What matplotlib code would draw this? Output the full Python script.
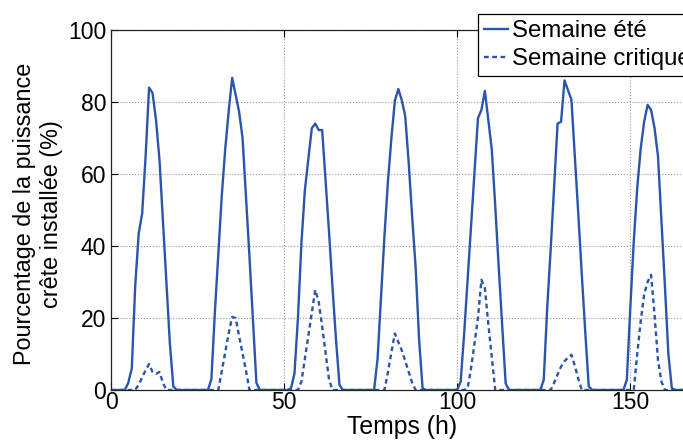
import numpy as np
import matplotlib
matplotlib.use("Agg")
import matplotlib.pyplot as plt

# hourly values over one week (h 0..167), one row per day
semaine_ete = [
    0, 0, 0, 0, 0, 2, 6, 29, 43.5, 49, 65, 84, 82.5, 75, 64, 47, 30, 13, 1, 0, 0, 0, 0, 0,
    0, 0, 0, 0, 0, 3, 21.5, 37.7, 54, 67, 77.5, 86.7, 82, 77.3, 70, 53.7, 37, 19.4, 2, 0, 0, 0, 0, 0,
    0, 0, 0, 0, 0.5, 4.6, 20, 40.7, 55.5, 64, 72.7, 74, 72.2, 72.2, 58, 43.6, 28.3, 13.9, 1.4, 0, 0, 0, 0, 0,
    0, 0, 0, 0, 0, 8.7, 26, 43, 58, 70, 80.4, 83.6, 80.5, 76, 63, 48, 34, 14, 0.5, 0, 0, 0, 0, 0,
    0, 0, 0, 0, 0, 2.3, 15.5, 30.5, 45.5, 60.5, 75.5, 77.8, 83.1, 75, 66.7, 51, 34, 18, 1.8, 0, 0, 0, 0, 0,
    0, 0, 0, 0, 0, 2.8, 22.8, 39, 56.7, 74, 74.5, 86, 83.3, 80.6, 64.8, 48.6, 32, 16, 1, 0, 0, 0, 0, 0,
    0, 0, 0, 0, 0, 2.8, 22.7, 41.2, 56, 67, 74.5, 79.2, 77.8, 72.8, 65, 47, 29, 10, 0.5, 0, 0, 0, 0, 0,
]
semaine_critique = [
    0, 0, 0, 0, 0, 0, 0, 0, 1.5, 3.5, 5.5, 7.2, 5, 4.5, 5, 2, 0, 0, 0, 0, 0, 0, 0, 0,
    0, 0, 0, 0, 0, 0, 0, 0, 5.3, 10.6, 15.8, 20.3, 20, 15, 10.2, 5.3, 0, 0, 0, 0, 0, 0, 0, 0,
    0, 0, 0, 0, 0, 0, 0, 2.3, 8.7, 15, 21.7, 27.8, 24.5, 17.6, 10.2, 2.8, 0, 0, 0, 0, 0, 0, 0, 0,
    0, 0, 0, 0, 0, 0, 0, 0, 5, 10.5, 15.7, 13.3, 11, 8, 5, 2, 0, 0, 0, 0, 0, 0, 0, 0,
    0, 0, 0, 0, 0, 0, 0, 0.5, 6, 13, 20, 30.6, 28.3, 18.2, 9, 0, 0, 0, 0, 0, 0, 0, 0, 0,
    0, 0, 0, 0, 0, 0, 0, 0, 2, 4.3, 6.5, 8, 9, 9.8, 6.6, 3.1, 0, 0, 0, 0, 0, 0, 0, 0,
    0, 0, 0, 0, 0, 0, 0, 0, 10, 19, 26.5, 30, 32, 21, 8.3, 2.3, 0, 0, 0, 0, 0, 0, 0, 0,
]
heures = np.arange(len(semaine_ete))

bleu = '#2b55a9'
fs = 16.5
plt.rcParams['font.family'] = ['Liberation Sans', 'DejaVu Sans']

fig = plt.figure(figsize=(6.83, 4.41), dpi=100)
ax = fig.add_axes([111 / 683, 51 / 441, 581.6 / 683, 360 / 441])

ax.plot(heures, semaine_ete, color=bleu, lw=1.7, label='Semaine été')
ax.plot(heures, semaine_critique, color=bleu, lw=1.7, ls=(0, (2.0, 1.5)), label='Semaine critique')

ax.set_xlim(0, 168)
ax.set_ylim(0, 100)
ax.set_xticks([0, 50, 100, 150])
ax.set_yticks([0, 20, 40, 60, 80, 100])
ax.grid(True, color='#9a9a9a', ls=':', lw=0.8)
ax.tick_params(direction='in', top=True, right=True, length=5, labelsize=fs, pad=3.5)
ax.tick_params(axis='x', pad=1)
for s in ax.spines.values():
    s.set_color('#222222')
    s.set_linewidth(0.9)

ax.set_xlabel('Temps (h)', fontsize=17.8, labelpad=0.5)
ax.set_ylabel('Pourcentage de la puissance\ncrête installée (%)', fontsize=16.8,
              linespacing=1.2)
ax.yaxis.set_label_coords(-0.083, 0.49)

leg = ax.legend(loc='upper left', bbox_to_anchor=(478 / 683, 1 - 14 / 441),
                bbox_transform=fig.transFigure, fontsize=17.3, fancybox=False,
                edgecolor='black', framealpha=1, borderpad=0.25, handlelength=1.0,
                handletextpad=0.15, labelspacing=0.25, borderaxespad=0)
leg.get_frame().set_linewidth(0.9)

fig.savefig('out.png', dpi=100)
